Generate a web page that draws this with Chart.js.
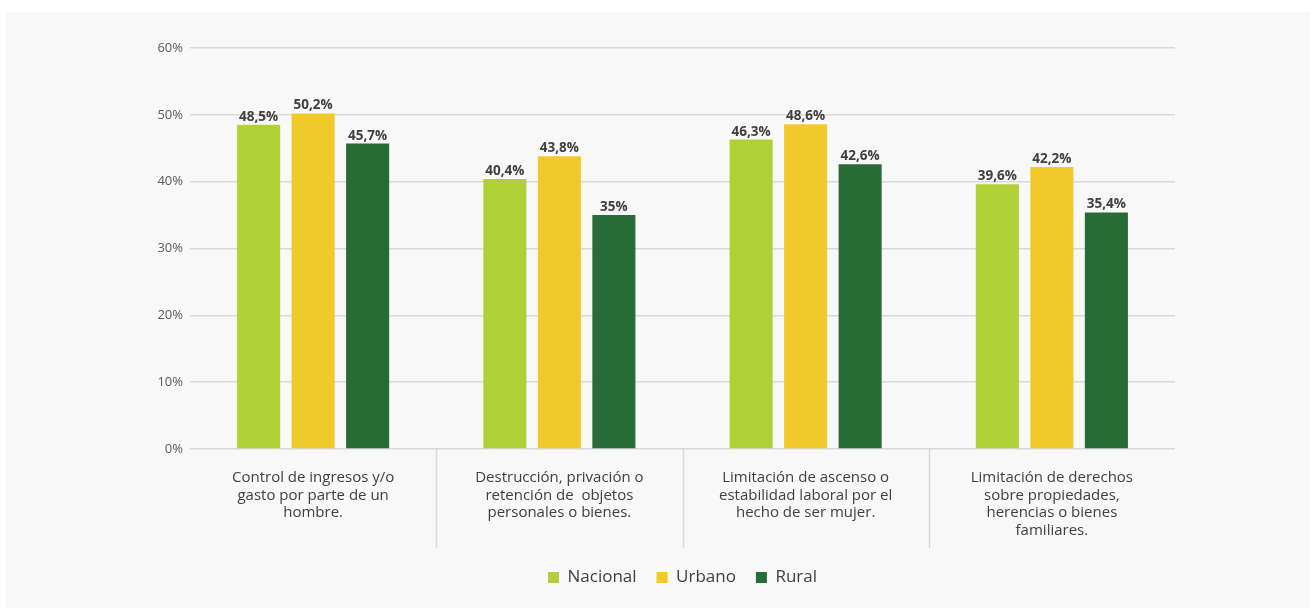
<!DOCTYPE html>
<html><head><meta charset="utf-8">
<script src="https://cdn.jsdelivr.net/npm/chart.js@4"></script>
<style>
html,body{margin:0;padding:0;background:#fff;width:1315px;height:610px;overflow:hidden;}
#panel{position:absolute;left:6px;top:12px;width:1304px;height:596px;background:#f8f8f8;}
canvas{display:block;}
</style></head><body>
<div id="panel"><canvas id="c" width="1304" height="596"></canvas></div>
<script>
const categories = [
  ["Control de ingresos y/o", "gasto por parte de un", "hombre."],
  ["Destrucción, privación o", "retención de  objetos", "personales o bienes."],
  ["Limitación de ascenso o", "estabilidad laboral por el", "hecho de ser mujer."],
  ["Limitación de derechos", "sobre propiedades,", "herencias o bienes", "familiares."]
];
const seriesNames = ["Nacional", "Urbano", "Rural"];
const nacional = [48.5, 40.4, 46.3, 39.6];
const urbano = [50.2, 43.8, 48.6, 42.2];
const rural = [45.7, 35, 42.6, 35.4];
const yMin = 0, yMax = 60, yStep = 10;

const colors = ["#b0d136", "#f0c92b", "#276b36"];
const fmt = v => String(v).replace('.', ',') + '%';

const valueLabels = {
  id: 'valueLabels',
  afterDatasetsDraw(chart) {
    const ctx = chart.ctx;
    ctx.save();
    ctx.font = 'bold 13.5px "Open Sans"';
    ctx.fillStyle = '#404040';
    ctx.textAlign = 'center';
    ctx.textBaseline = 'alphabetic';
    chart.data.datasets.forEach((ds, i) => {
      chart.getDatasetMeta(i).data.forEach((bar, j) => {
        ctx.fillText(fmt(ds.data[j]), bar.x, bar.y - 4);
      });
    });
    ctx.restore();
  }
};

const separators = {
  id: 'separators',
  afterDraw(chart) {
    const x = chart.scales.x, area = chart.chartArea, ctx = chart.ctx;
    ctx.save();
    ctx.strokeStyle = '#d9d9d9';
    ctx.lineWidth = 1.5;
    for (let i = 1; i < categories.length; i++) {
      const px = Math.round((x.getPixelForTick(i - 1) + x.getPixelForTick(i)) / 2) + 0.5;
      ctx.beginPath();
      ctx.moveTo(px, area.bottom);
      ctx.lineTo(px, area.bottom + 99);
      ctx.stroke();
    }
    ctx.restore();
  }
};

const data = {
  labels: categories,
  datasets: [nacional, urbano, rural].map((d, i) => ({
    label: seriesNames[i],
    data: d,
    backgroundColor: colors[i],
    borderWidth: 0,
    barPercentage: 0.79,
    categoryPercentage: 0.664
  }))
};

new Chart(document.getElementById('c'), {
  type: 'bar',
  data,
  plugins: [valueLabels, separators],
  options: {
    responsive: false,
    animation: false,
    layout: { padding: { top: 36, right: 135, bottom: 12, left: 0 } },
    plugins: {
      tooltip: { enabled: false },
      legend: {
        position: 'bottom',
        fullSize: false,
        labels: {
          font: { family: '"Open Sans"', size: 17 },
          color: '#404040',
          boxWidth: 11,
          boxHeight: 11,
          padding: 20
        }
      }
    },
    scales: {
      x: {
        grid: { display: false },
        border: { display: false },
        afterFit(s) { s.height = 100; },
        ticks: {
          font: { family: '"Open Sans"', size: 15, lineHeight: 1.17 },
          color: '#404040',
          padding: 12,
          maxRotation: 0,
          autoSkip: false
        }
      },
      y: {
        min: yMin, max: yMax,
        afterFit(s) { s.width = 184; },
        border: { display: false },
        grid: { color: '#d9d9d9', lineWidth: 1.5, drawTicks: false },
        ticks: {
          stepSize: yStep,
          padding: 7,
          font: { family: '"Open Sans"', size: 13 },
          color: '#595959',
          callback: v => v + '%'
        }
      }
    }
  }
});
</script>
</body></html>
